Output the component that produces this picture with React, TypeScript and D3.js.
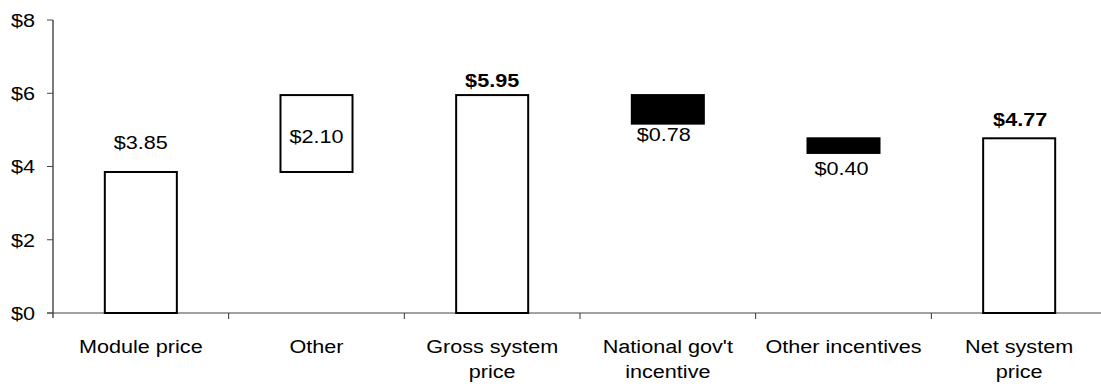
import React from "react";
import * as d3 from "d3";

// Waterfall of PV system price components ($ per watt)
const categories = [
  "Module price",
  "Other",
  "Gross system price",
  "National gov't incentive",
  "Other incentives",
  "Net system price",
];
const categoryLines = [
  ["Module price"],
  ["Other"],
  ["Gross system", "price"],
  ["National gov't", "incentive"],
  ["Other incentives"],
  ["Net system", "price"],
];
// floating bar bottoms and heights
const barBase = [0, 3.85, 0, 5.17, 4.37, 0];
const barValue = [3.85, 2.1, 5.95, 0.78, 0.4, 4.77];
const barKind = ["total", "step", "total", "reduction", "reduction", "total"];
const valueLabels = ["$3.85", "$2.10", "$5.95", "$0.78", "$0.40", "$4.77"];
const boldLabel = [false, false, true, false, false, true];
const yTicks = [0, 2, 4, 6, 8];
const yTickLabels = ["$0", "$2", "$4", "$6", "$8"];

const W = 1101;
const H = 388;
const FONT = "'Liberation Sans', Arial, Helvetica, sans-serif";
const FONT_SIZE = 18.8;
const STRETCH = 1.15;

export default function App() {
  const x = d3
    .scaleBand<string>()
    .domain(categories)
    .range([53, 1107])
    .paddingInner(0.59)
    .paddingOuter(0.295);
  const y = d3.scaleLinear().domain([0, 8]).range([313, 20]);
  const step = x.step();

  // label anchor: where each value label sits relative to its bar
  const labelY = (i: number) => {
    const top = y(barBase[i] + barValue[i]);
    const bottom = y(barBase[i]);
    switch (i) {
      case 0:
        return top - 23;
      case 1:
        return (top + bottom) / 2 + 9;
      case 2:
        return top - 8;
      case 3:
        return bottom + 17;
      case 4:
        return bottom + 22;
      default:
        return top - 12;
    }
  };
  const labelDx = [0, 0, 0, -4, -2, 1];

  const Stretched = ({
    cx,
    cy,
    children,
    anchor = "middle",
    weight = "normal",
  }: {
    cx: number;
    cy: number;
    children: React.ReactNode;
    anchor?: string;
    weight?: string;
  }) => (
    <text
      transform={`translate(${cx},${cy}) scale(${STRETCH},1)`}
      textAnchor={anchor}
      fontWeight={weight}
      fontSize={FONT_SIZE}
      fontFamily={FONT}
      fill="#000"
    >
      {children}
    </text>
  );

  return (
    <svg
      width={W}
      height={H}
      style={{ position: "absolute", left: 0, top: 0, background: "#fff" }}
    >
      {/* y axis */}
      <line x1={53} x2={53} y1={y(8)} y2={y(0) + 5} stroke="#222" strokeWidth={1.2} />
      {yTicks.map((t, i) => (
        <g key={t}>
          <line x1={47} x2={53} y1={y(t)} y2={y(t)} stroke="#444" strokeWidth={1} />
          <Stretched cx={35} cy={y(t) + 6.8} anchor="end">
            {yTickLabels[i]}
          </Stretched>
        </g>
      ))}
      {/* x axis baseline with category boundary ticks */}
      <line x1={47} x2={W} y1={y(0)} y2={y(0)} stroke="#444" strokeWidth={1.2} />
      {d3.range(1, categories.length).map((k) => (
        <line
          key={k}
          x1={53 + k * step}
          x2={53 + k * step}
          y1={y(0)}
          y2={y(0) + 6}
          stroke="#333"
          strokeWidth={1}
        />
      ))}
      {/* bars */}
      {categories.map((c, i) => {
        const top = y(barBase[i] + barValue[i]);
        const bottom = y(barBase[i]);
        const dark = barKind[i] === "reduction";
        return (
          <rect
            key={c}
            x={x(c)!}
            y={top}
            width={x.bandwidth()}
            height={bottom - top}
            fill={dark ? "#000" : "#fff"}
            stroke="#000"
            strokeWidth={2}
          />
        );
      })}
      {/* value labels */}
      {categories.map((c, i) => (
        <Stretched
          key={c}
          cx={x(c)! + x.bandwidth() / 2 + labelDx[i]}
          cy={labelY(i)}
          weight={boldLabel[i] ? "bold" : "normal"}
        >
          {valueLabels[i]}
        </Stretched>
      ))}
      {/* category labels */}
      {categories.map((c, i) =>
        categoryLines[i].map((line, j) => (
          <Stretched key={c + j} cx={x(c)! + x.bandwidth() / 2} cy={353 + j * 25}>
            {line}
          </Stretched>
        ))
      )}
    </svg>
  );
}
